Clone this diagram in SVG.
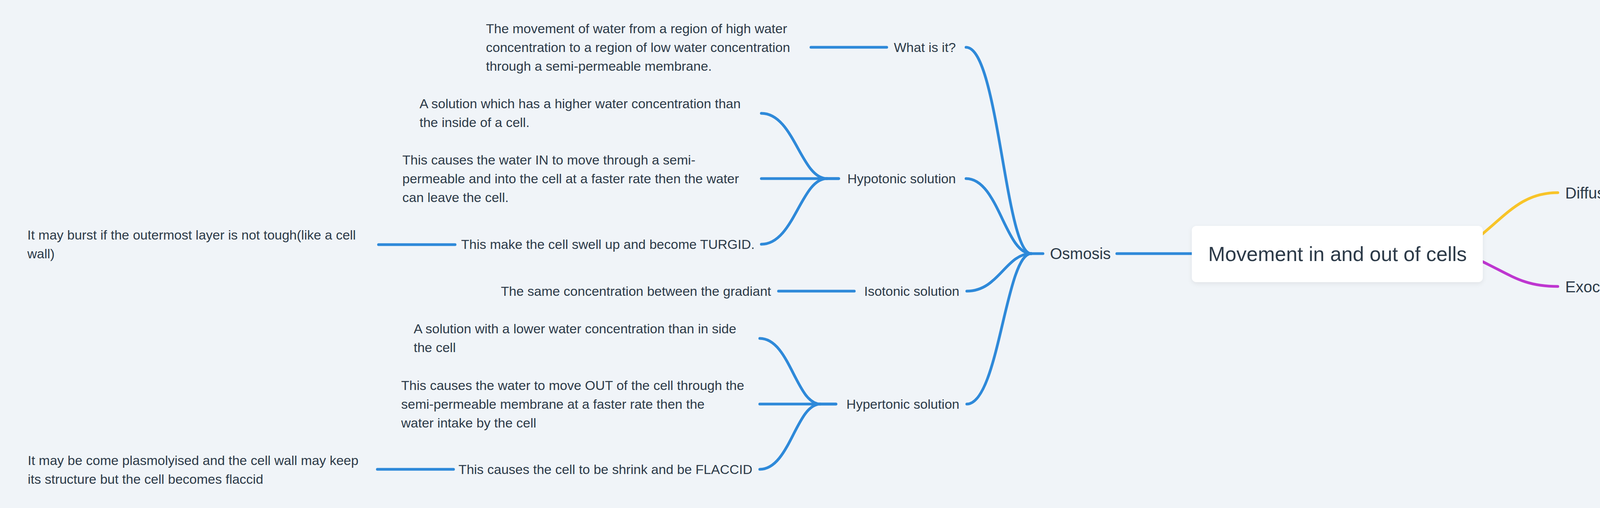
<svg xmlns="http://www.w3.org/2000/svg" width="6140" height="1300" viewBox="0 0 6140 1300">
<defs>
<style>
.bg{fill:#f0f4f8}
text{font-family:"Liberation Sans",Arial,sans-serif;fill:#2c3a48}
.t{font-size:34px}
.m{font-size:40px}
.c{font-size:52px}
.ln{fill:none;stroke-width:7;stroke-linecap:round;stroke-linejoin:round}
.b{stroke:#2e89d9}
.y{stroke:#f8c428}
.p{stroke:#be36d0}
</style>
<filter id="sh" x="-10%" y="-20%" width="120%" height="150%">
<feDropShadow dx="0" dy="4" stdDeviation="6" flood-color="#000" flood-opacity="0.07"/>
</filter>
</defs>
<rect class="bg" x="0" y="0" width="6140" height="1300"/>
<g id="connectors">
<path class="ln b" d="M2859,649 L3060,649"/>
<path class="ln y" d="M3790,603 C3860,545 3900,493 3988,493"/>
<path class="ln p" d="M3790,667 C3870,705 3900,733 3988,733"/>
<path class="ln b" d="M2640,649 L2670,649"/>
<path class="ln b" d="M2473,121 C2556,121 2573,649 2640,649"/>
<path class="ln b" d="M2473,457 C2556,457 2573,649 2640,649"/>
<path class="ln b" d="M2475,745 C2557,745 2574,649 2640,649"/>
<path class="ln b" d="M2475,1034 C2557,1034 2574,649 2640,649"/>
<path class="ln b" d="M2076,121 L2270,121"/>
<path class="ln b" d="M2117,457 L2147,457"/>
<path class="ln b" d="M1949,290 C2033,290 2050,457 2117,457"/>
<path class="ln b" d="M1949,457 L2147,457"/>
<path class="ln b" d="M1949,625 C2033,625 2050,457 2117,457"/>
<path class="ln b" d="M969,626 L1165,626"/>
<path class="ln b" d="M1993,745 L2187,745"/>
<path class="ln b" d="M2100,1034 L2140,1034"/>
<path class="ln b" d="M1945,866 C2022,866 2038,1034 2100,1034"/>
<path class="ln b" d="M1945,1034 L2140,1034"/>
<path class="ln b" d="M1945,1201 C2022,1201 2038,1034 2100,1034"/>
<path class="ln b" d="M966,1201 L1161,1201"/>
<path class="ln y" d="M4184,494 L4379,494"/>
<path class="ln y" d="M4573,494 L4767,494"/>
<path class="ln p" d="M4518,734 L4553,734"/>
<path class="ln p" d="M4553,734 C4570,734 4600,662 4716,662"/>
<path class="ln p" d="M4553,734 C4570,734 4600,806 4716,806"/>
<path class="ln p" d="M4958,662 L5156,662"/>
<path class="ln p" d="M4973,806 L5169,806"/>
</g>
<g id="central">
<rect x="3051" y="578" width="745" height="144" rx="12" fill="#ffffff" filter="url(#sh)"/>
<text class="c" x="3424" y="668" text-anchor="middle">Movement in and out of cells</text>
</g>
<g id="osmosis"><text class="m" x="2688" y="663">Osmosis</text></g>
<g id="osm-what"><text class="t" x="2447" y="133" text-anchor="end">What is it?</text></g>
<g id="osm-what-def"><text class="t"><tspan x="1244" y="85">The movement of water from a region of high water</tspan><tspan x="1244" y="133">concentration to a region of low water concentration</tspan><tspan x="1244" y="181">through a semi-permeable membrane.</tspan></text></g>
<g id="hypotonic"><text class="t" x="2447" y="469" text-anchor="end">Hypotonic solution</text></g>
<g id="hypo-1"><text class="t"><tspan x="1074" y="277">A solution which has a higher water concentration than</tspan><tspan x="1074" y="325">the inside of a cell.</tspan></text></g>
<g id="hypo-2"><text class="t"><tspan x="1030" y="421">This causes the water IN to move through a semi-</tspan><tspan x="1030" y="469">permeable and into the cell at a faster rate then the water</tspan><tspan x="1030" y="517">can leave the cell.</tspan></text></g>
<g id="hypo-3"><text class="t" x="1932" y="637" text-anchor="end">This make the cell swell up and become TURGID.</text></g>
<g id="hypo-3-1"><text class="t"><tspan x="70" y="613">It may burst if the outermost layer is not tough(like a cell</tspan><tspan x="70" y="661">wall)</tspan></text></g>
<g id="isotonic"><text class="t" x="2456" y="757" text-anchor="end">Isotonic solution</text></g>
<g id="iso-1"><text class="t" x="1974" y="757" text-anchor="end">The same concentration between the gradiant</text></g>
<g id="hypertonic"><text class="t" x="2456" y="1046" text-anchor="end">Hypertonic solution</text></g>
<g id="hyper-1"><text class="t"><tspan x="1059" y="853">A solution with a lower water concentration than in side</tspan><tspan x="1059" y="901">the cell</tspan></text></g>
<g id="hyper-2"><text class="t"><tspan x="1027" y="998">This causes the water to move OUT of the cell through the</tspan><tspan x="1027" y="1046">semi-permeable membrane at a faster rate then the</tspan><tspan x="1027" y="1094">water intake by the cell</tspan></text></g>
<g id="hyper-3"><text class="t" x="1926" y="1213" text-anchor="end">This causes the cell to be shrink and be FLACCID</text></g>
<g id="hyper-3-1"><text class="t"><tspan x="71" y="1190">It may be come plasmolyised and the cell wall may keep</tspan><tspan x="71" y="1238">its structure but the cell becomes flaccid</tspan></text></g>
<g id="diffusion"><text class="m" x="4007" y="508">Diffusion</text></g>
<g id="diff-what"><text class="t" x="4396" y="506">What is it?</text></g>
<g id="diff-def"><text class="t"><tspan x="4784" y="482">The net movement of particles from an area of high</tspan><tspan x="4784" y="530">concentration to an area of low conentration.</tspan></text></g>
<g id="exoendo"><text class="m" x="4007" y="748">Exocytosis and Endocytosis</text></g>
<g id="exo"><text class="t" x="4733" y="674">1. Exocytosis</text></g>
<g id="exo-def"><text class="t"><tspan x="5171" y="650">The process where the cell explels molucules that are too</tspan><tspan x="5171" y="698">large to pass through the cell membrane</tspan></text></g>
<g id="endo"><text class="t" x="4733" y="818">2. Endocytosis</text></g>
<g id="endo-def"><text class="t"><tspan x="5184" y="794">The process where the cell intakes a molecule that is to</tspan><tspan x="5184" y="842">large to pass through the cell membrane</tspan></text></g>
</svg>
